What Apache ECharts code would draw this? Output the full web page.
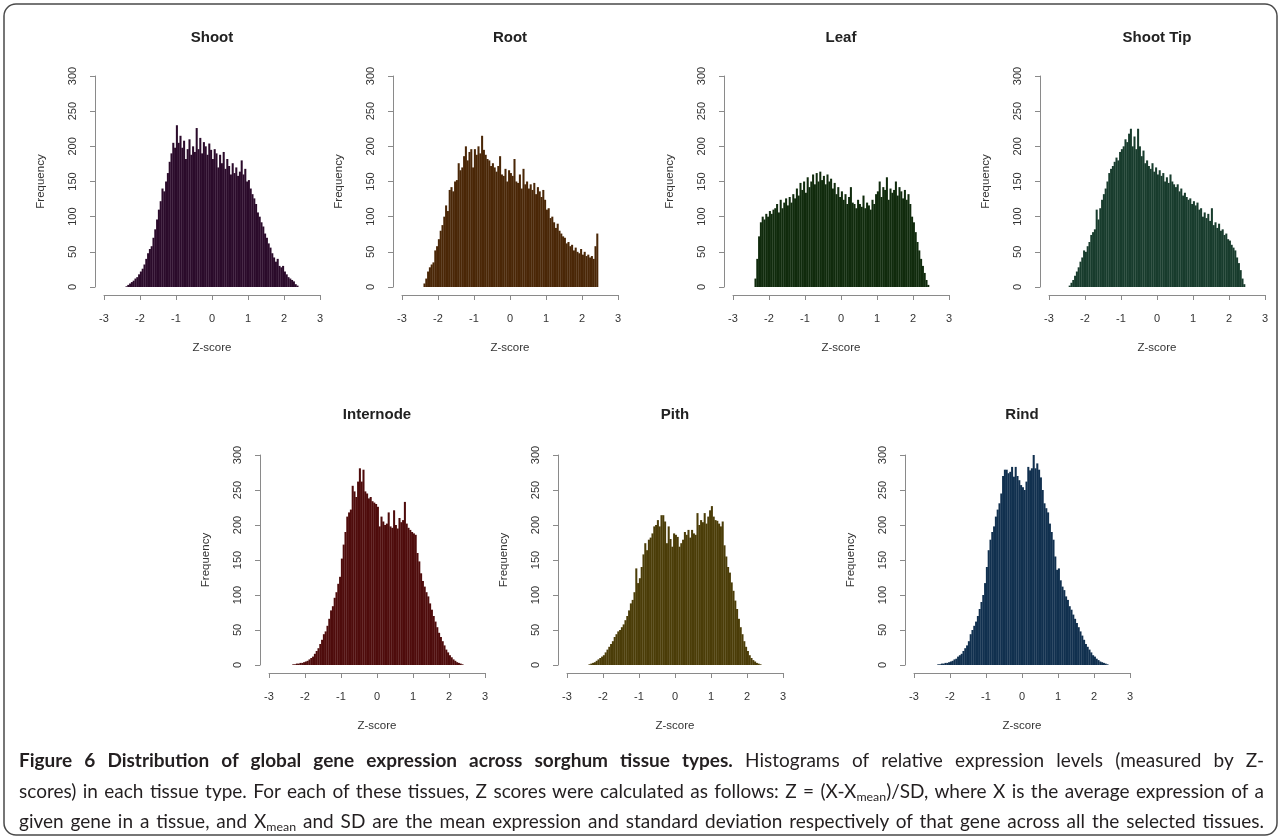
<!DOCTYPE html>
<html><head><meta charset="utf-8">
<script src="https://cdn.jsdelivr.net/npm/echarts@6/dist/echarts.min.js"></script>
<style>
html,body{margin:0;padding:0;background:#fff;}
#chart{position:absolute;left:0;top:0;width:1282px;height:838px;}
#caption{position:absolute;left:19px;width:1245px;top:745px;font-family:Lato,"Open Sans",sans-serif;font-size:17px;color:#231f20;}
#caption div{white-space:nowrap;text-align:justify;text-align-last:justify;line-height:30.5px;height:30.5px;}
#caption sub{font-size:0.65em;line-height:0;vertical-align:-0.25em;}
</style></head>
<body>
<div id="chart"></div>
<div id="caption">
<div><b>Figure 6 Distribution of global gene expression across sorghum tissue types.</b> Histograms of relative expression levels (measured by Z-</div>
<div>scores) in each tissue type. For each of these tissues, Z scores were calculated as follows: Z = (X-X<sub>mean</sub>)/SD, where X is the average expression of a</div>
<div>given gene in a tissue, and X<sub>mean</sub> and SD are the mean expression and standard deviation respectively of that gene across all the selected tissues.</div>
</div>
<script>
const panelTitles = ['Shoot', 'Root', 'Leaf', 'Shoot Tip', 'Internode', 'Pith', 'Rind'];
const xTicks = [-3, -2, -1, 0, 1, 2, 3];
const yTicks = [0, 50, 100, 150, 200, 250, 300];
const binCenters = [
 -2.425,-2.375,-2.325,-2.275,-2.225,-2.175,-2.125,-2.075,-2.025,-1.975,
 -1.925,-1.875,-1.825,-1.775,-1.725,-1.675,-1.625,-1.575,-1.525,-1.475,
 -1.425,-1.375,-1.325,-1.275,-1.225,-1.175,-1.125,-1.075,-1.025,-0.975,
 -0.925,-0.875,-0.825,-0.775,-0.725,-0.675,-0.625,-0.575,-0.525,-0.475,
 -0.425,-0.375,-0.325,-0.275,-0.225,-0.175,-0.125,-0.075,-0.025,0.025,
 0.075,0.125,0.175,0.225,0.275,0.325,0.375,0.425,0.475,0.525,
 0.575,0.625,0.675,0.725,0.775,0.825,0.875,0.925,0.975,1.025,
 1.075,1.125,1.175,1.225,1.275,1.325,1.375,1.425,1.475,1.525,
 1.575,1.625,1.675,1.725,1.775,1.825,1.875,1.925,1.975,2.025,
 2.075,2.125,2.175,2.225,2.275,2.325,2.375,2.425
];
const shootFreq = [
 0,1,3,5,7,9,12,14,18,22,
 26,32,40,48,54,58,70,82,96,110,
 122,140,136,150,162,178,190,205,198,230,
 205,215,198,208,182,196,210,188,200,192,
 226,196,212,190,206,200,188,204,195,182,
 196,190,170,188,176,192,168,182,172,160,
 176,162,170,158,164,180,160,168,150,152,
 140,132,126,118,106,100,92,86,76,70,
 62,56,48,42,36,40,30,28,30,22,
 18,14,12,10,8,4,2,0
];
const rootFreq = [
 0,5,12,22,28,32,35,52,58,68,
 80,88,100,116,108,138,142,136,150,152,
 176,166,170,186,200,180,192,196,170,196,
 188,200,190,215,195,188,182,180,172,176,
 170,164,172,186,160,158,168,150,166,162,
 158,182,150,148,160,140,168,146,150,140,
 146,138,148,132,142,136,128,138,124,110,
 112,98,100,92,84,90,80,76,72,70,
 62,64,58,60,52,56,50,48,54,46,
 50,44,46,42,44,40,58,76
];
const leafFreq = [
 0,12,40,72,92,100,96,104,100,108,
 104,110,112,118,106,124,112,120,126,116,
 128,120,132,126,140,130,148,138,150,134,
 156,142,150,160,146,162,150,164,152,158,
 146,160,150,154,140,148,132,142,128,136,
 124,132,118,128,142,120,118,112,124,118,
 114,130,112,120,116,110,124,118,132,136,
 150,128,142,138,156,124,140,134,138,150,
 130,142,136,126,138,124,132,118,100,92,
 78,64,52,40,30,20,10,3
];
const shootTipFreq = [
 2,6,10,16,22,28,36,42,52,50,
 58,64,74,78,82,110,96,112,124,132,
 140,150,162,168,172,178,184,180,192,196,
 200,210,206,218,225,200,214,196,225,200,
 186,194,176,180,172,168,176,164,170,160,
 166,158,162,150,156,148,160,150,146,142,
 146,136,140,130,134,128,124,126,118,122,
 116,120,110,112,100,106,98,104,94,112,
 88,92,84,90,80,82,74,76,68,66,
 60,56,52,42,34,24,12,4
];
const internodeFreq = [
 0,0,1,1,2,2,3,3,4,5,
 6,8,10,12,16,20,24,30,36,44,
 48,56,66,78,84,96,104,116,126,152,
 172,190,212,218,222,256,248,240,262,281,
 262,279,248,245,238,240,234,232,230,226,
 198,212,205,200,202,218,198,196,221,200,
 195,210,204,207,233,202,196,193,190,188,
 186,160,148,131,120,112,104,98,88,79,
 70,62,54,46,40,34,28,22,18,14,
 11,8,6,4,3,2,1,0
];
const pithFreq = [
 0,1,2,3,4,6,8,10,12,14,
 18,22,26,30,34,40,44,48,50,54,
 58,64,70,78,88,93,104,138,117,124,
 140,158,174,164,179,182,188,198,200,207,
 198,214,214,205,174,198,180,169,188,186,
 183,169,174,179,190,186,193,182,193,188,
 186,217,200,207,204,217,202,212,221,227,
 212,207,206,202,198,205,171,155,140,132,
 118,106,92,80,66,54,44,34,26,20,
 14,10,7,5,3,2,1,0
];
const rindFreq = [
 0,0,1,1,2,2,3,3,4,5,
 6,8,9,12,14,16,20,24,28,34,
 44,50,56,62,70,80,90,100,117,140,
 164,179,190,198,212,222,231,245,270,279,
 279,274,276,283,269,283,270,264,257,254,
 250,262,283,278,281,305,281,288,279,268,
 250,231,224,218,202,190,179,155,136,138,
 121,112,107,98,93,84,79,72,66,60,
 54,48,42,36,30,26,22,18,14,12,
 9,7,5,4,3,2,1,0
];
const seriesValues = [shootFreq, rootFreq, leafFreq, shootTipFreq, internodeFreq, pithFreq, rindFreq];

// layout & style (not data)
const layout = [
 {left:104, top:76, height:211, fill:'#2b0b2b', titleY:38},
 {left:402, top:76, height:211, fill:'#4a2707', titleY:38},
 {left:733, top:76, height:211, fill:'#102b0d', titleY:38},
 {left:1049, top:76, height:211, fill:'#183c2d', titleY:38},
 {left:269, top:455, height:210, fill:'#4f0c0c', titleY:415},
 {left:567, top:455, height:210, fill:'#4b3d08', titleY:415},
 {left:914, top:455, height:210, fill:'#11304f', titleY:415}
];
const PW = 216;
const FONT = '"Liberation Sans", Arial, sans-serif';
const axisCol = '#8a8a8a';

const grids = [], xAxes = [], yAxes = [], series = [], graphics = [];
layout.forEach((p, i) => {
  grids.push({left:p.left, top:p.top, width:PW, height:p.height, containLabel:false});
  xAxes.push({
    gridIndex:i, type:'value', min:xTicks[0], max:xTicks[xTicks.length-1], interval:1, offset:8,
    axisLine:{show:true, onZero:false, lineStyle:{color:axisCol, width:1}},
    axisTick:{show:true, length:5, lineStyle:{color:axisCol, width:1}},
    axisLabel:{margin:18, color:'#333', fontSize:11, fontFamily:FONT},
    splitLine:{show:false},
    name:'Z-score', nameLocation:'middle', nameGap:47,
    nameTextStyle:{color:'#333', fontSize:11.5, fontFamily:FONT}
  });
  yAxes.push({
    gridIndex:i, type:'value', min:yTicks[0], max:yTicks[yTicks.length-1], interval:50, offset:9,
    axisLine:{show:true, onZero:false, lineStyle:{color:axisCol, width:1}},
    axisTick:{show:true, length:5, lineStyle:{color:axisCol, width:1}},
    axisLabel:{rotate:90, margin:17, color:'#333', fontSize:11, fontFamily:FONT},
    splitLine:{show:false},
    name:'Frequency', nameLocation:'middle', nameGap:48,
    nameTextStyle:{color:'#333', fontSize:11.5, fontFamily:FONT}
  });
  series.push({
    type:'bar', xAxisIndex:i, yAxisIndex:i, barWidth:2.05, silent:true,
    data: binCenters.map((c, j) => [c, seriesValues[i][j]]),
    itemStyle:{color:p.fill, borderWidth:0}
  });
  graphics.push({
    type:'text', x:p.left + PW/2, y:p.titleY,
    style:{text:panelTitles[i], font:'bold 15px ' + FONT, fill:'#222',
           textAlign:'center', textVerticalAlign:'middle', align:'center', verticalAlign:'middle'}
  });
});
graphics.push({
  type:'rect', shape:{x:4, y:4, width:1273, height:831, r:12},
  style:{fill:'none', stroke:'#4a4a4a', lineWidth:1.5}, z:-1
});

const chart = echarts.init(document.getElementById('chart'), null, {renderer:'canvas'});
chart.setOption({
  animation:false,
  backgroundColor:'#ffffff',
  grid:grids, xAxis:xAxes, yAxis:yAxes, series:series,
  graphic:graphics
});

// fit caption font so the longest line nearly fills the box, then justify
(function fitCaption(){
  const cap = document.getElementById('caption');
  const lines = cap.querySelectorAll('div');
  lines.forEach(d => { d.style.textAlignLast = 'left'; d.style.textAlign = 'left'; });
  let maxW = 0;
  lines.forEach(d => {
    const r = document.createRange(); r.selectNodeContents(d);
    maxW = Math.max(maxW, r.getBoundingClientRect().width);
  });
  const fs = Math.min(19, 17 * 1236 / maxW);
  cap.style.fontSize = fs + 'px';
  lines.forEach(d => { d.style.textAlignLast = ''; d.style.textAlign = ''; });
})();
</script>
</body></html>
